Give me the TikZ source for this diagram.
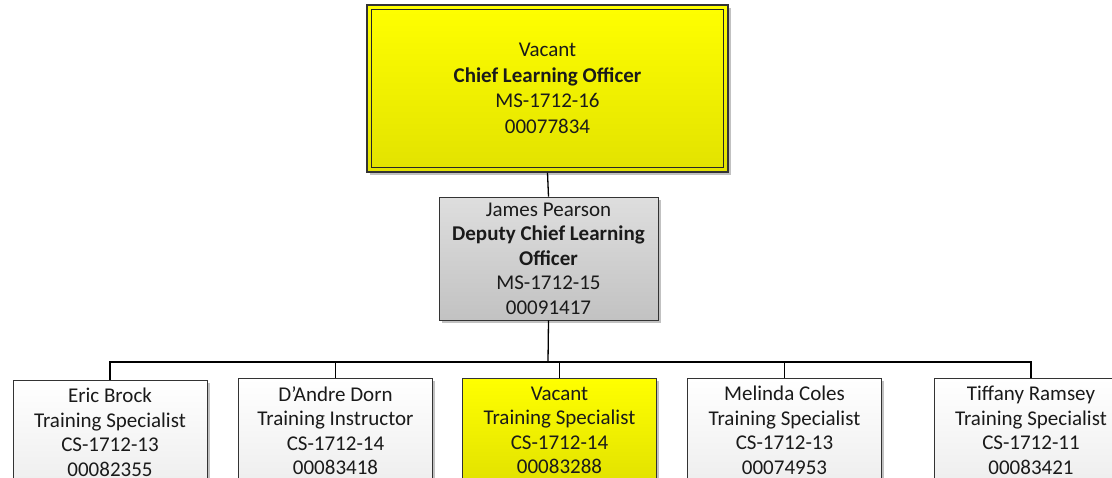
\documentclass[tikz,border=0pt]{standalone}
\usepackage{fontspec}
\setmainfont{Carlito}
\usetikzlibrary{shadows}
\definecolor{txt}{HTML}{1A1A1A}
\definecolor{yeltop}{HTML}{FFFF00}
\definecolor{yelbot}{HTML}{E2E200}
\definecolor{graytop}{HTML}{DEDEDE}
\definecolor{graybot}{HTML}{C2C2C2}
\definecolor{whitebot}{HTML}{EEEEEE}
\begin{document}
\begin{tikzpicture}[x=1pt,y=-1pt,
  orgbox/.style={rectangle, draw=black!80, line width=0.9pt, align=center,
    inner sep=0pt, text=txt,
    drop shadow={shadow xshift=2.5pt,shadow yshift=-2.5pt,fill=black!40,opacity=0.6}},
  staff/.style={orgbox, anchor=north, minimum width=194pt, minimum height=104pt,
    font=\fontsize{21}{24.5}\selectfont},
  plain/.style={top color=white, bottom color=whitebot},
  vacant/.style={top color=yeltop, bottom color=yelbot},
  link/.style={draw=black, line width=1.3pt}
]
\useasboundingbox[fill=white] (0,0) rectangle (1112,477);

% chief learning officer, double frame
\node[orgbox, vacant, line width=1.4pt, minimum width=361pt, minimum height=167pt,
  font=\fontsize{21}{25.5}\selectfont] (chief) at (547.5,88.5)
  {Vacant\\\textbf{Chief Learning Officer}\\MS-1712-16\\00077834};
\draw[line width=1.4pt, black!85] ([shift={(5,5)}]chief.north west) rectangle ([shift={(-5,-5)}]chief.south east);

% deputy
\node[orgbox, top color=graytop, bottom color=graybot, minimum width=219pt, minimum height=123pt,
  font=\fontsize{21}{24.5}\selectfont] (deputy) at (548.5,258.5)
  {James Pearson\\\textbf{Deputy Chief Learning}\\\textbf{Officer}\\MS-1712-15\\00091417};

% staff row
\node[staff, plain]  (s1) at (110,380)    {Eric Brock\\Training Specialist\\CS-1712-13\\00082355};
\node[staff, plain]  (s2) at (335.5,378)  {D’Andre Dorn\\Training Instructor\\CS-1712-14\\00083418};
\node[staff, vacant] (s3) at (559.5,378)  {Vacant\\Training Specialist\\CS-1712-14\\00083288};
\node[staff, plain]  (s4) at (784.5,378)  {Melinda Coles\\Training Specialist\\CS-1712-13\\00074953};
\node[staff, plain]  (s5) at (1031,378)   {Tiffany Ramsey\\Training Specialist\\CS-1712-11\\00083421};

% connectors
\coordinate (bus) at (548,362);
\draw[link] (chief.south) -- (deputy.north);
\draw[link] (deputy.south) -- (bus);
\foreach \s in {s1,s2,s3,s4,s5}
  \draw[link] (bus) -| (\s.north);
\end{tikzpicture}
\end{document}
